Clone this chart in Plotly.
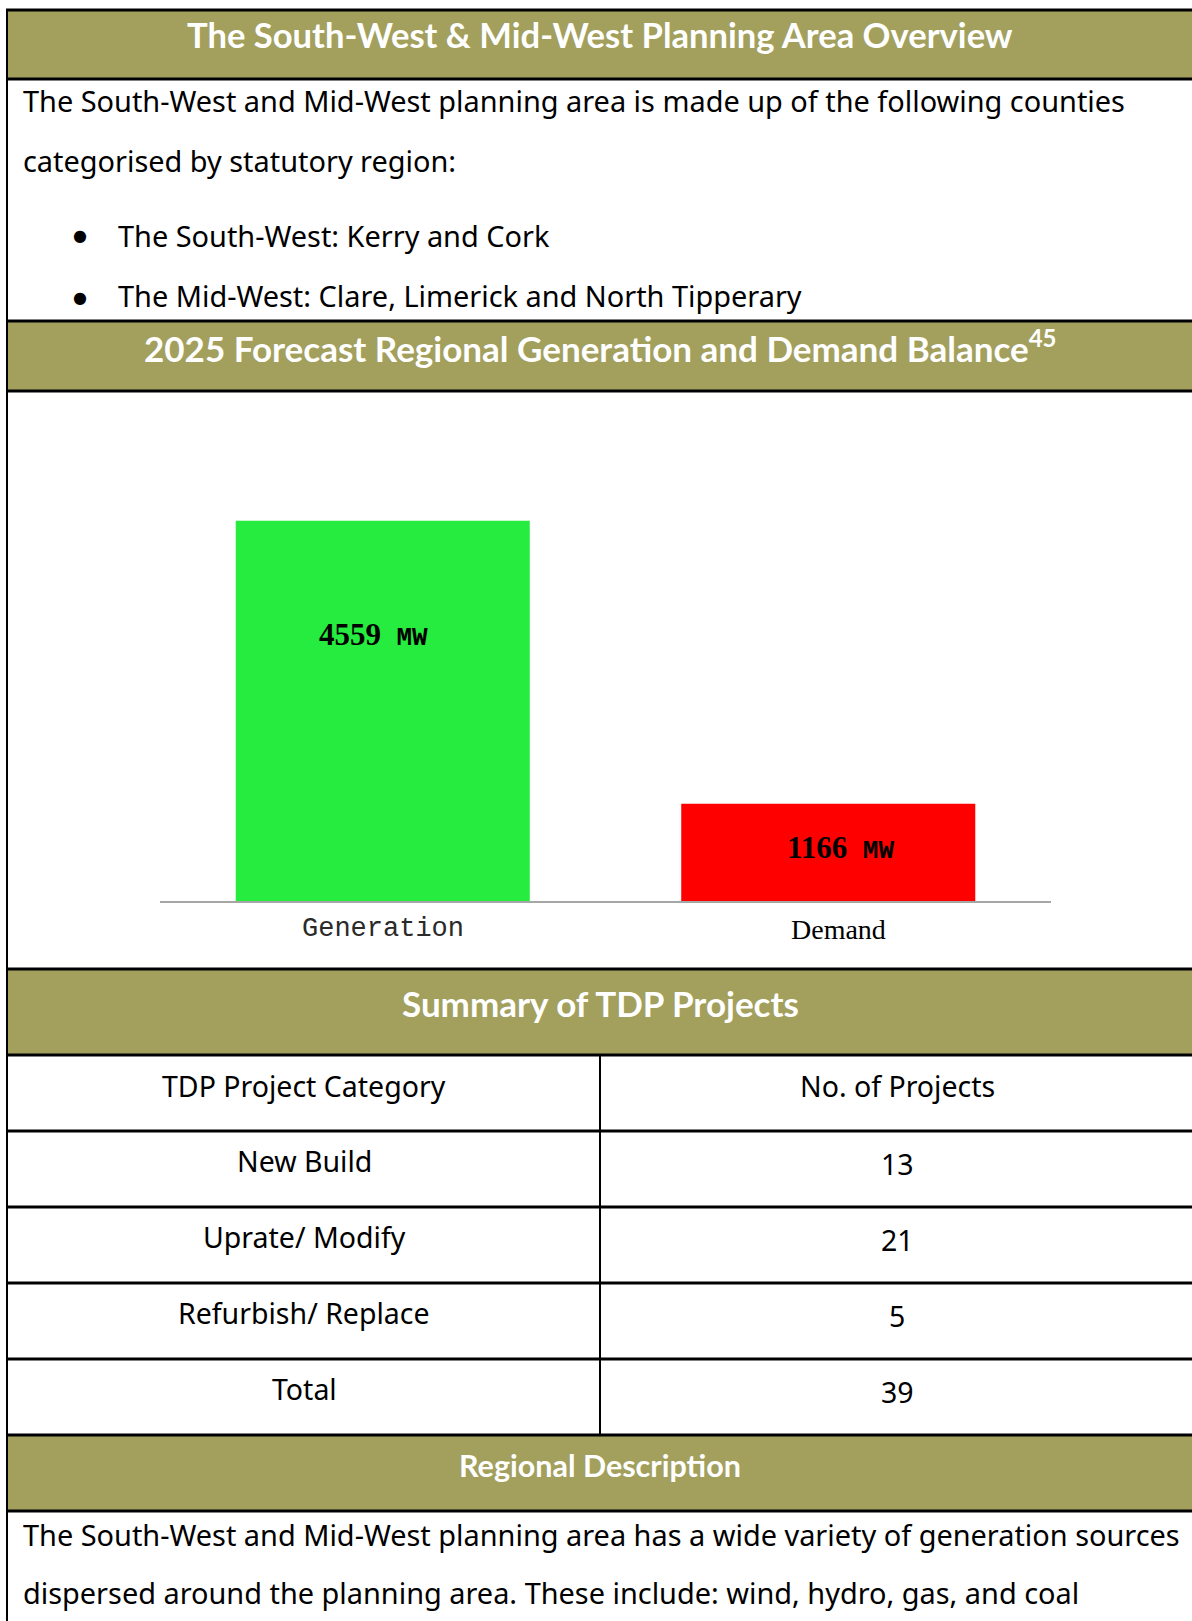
import plotly.graph_objects as go

W, H = 1192, 1621

# ---------------- data ----------------
bar_categories = ["Generation", "Demand"]
bar_values_mw = [4559, 1166]
bar_colors = ["#25EC3E", "#FF0000"]
bar_label_frac = [0.70, 0.55]
bar_unit = "MW"

title_overview = "The South-West & Mid-West Planning Area Overview"
overview_lines = [
    "The South-West and Mid-West planning area is made up of the following counties",
    "categorised by statutory region:",
]
overview_bullets = [
    "The South-West: Kerry and Cork",
    "The Mid-West: Clare, Limerick and North Tipperary",
]
title_balance = "2025 Forecast Regional Generation and Demand Balance"
balance_footnote = "45"
title_summary = "Summary of TDP Projects"
table_headers = ["TDP Project Category", "No. of Projects"]
project_categories = ["New Build", "Uprate/ Modify", "Refurbish/ Replace"]
project_counts = [13, 21, 5]
total_label = "Total"
title_regional = "Regional Description"
regional_lines = [
    "The South-West and Mid-West planning area has a wide variety of generation sources",
    "dispersed around the planning area. These include: wind, hydro, gas, and coal",
]

OLIVE = "rgb(163,160,94)"
HEAD_FONT = "Lato"
BODY_FONT = "Noto Sans"


def px(x):
    return x / W


def py(y):
    return 1 - y / H


shapes = []
annotations = []


def band(y0, y1):
    shapes.append(dict(type="rect", xref="paper", yref="paper",
                       x0=px(7), x1=px(W + 5), y0=py(y1), y1=py(y0),
                       fillcolor=OLIVE, line=dict(width=0), layer="below"))


def hline(y, w=3):
    shapes.append(dict(type="line", xref="paper", yref="paper",
                       x0=px(6), x1=px(W + 5), y0=py(y), y1=py(y),
                       line=dict(color="black", width=w)))


def vline(x, y0, y1, w=2):
    shapes.append(dict(type="line", xref="paper", yref="paper",
                       x0=px(x), x1=px(x), y0=py(y0), y1=py(y1),
                       line=dict(color="black", width=w)))


def text(s, x, y, size, anchor="center", color="black", bold=False, family=BODY_FONT):
    annotations.append(dict(text=f"<b>{s}</b>" if bold else s, x=px(x), y=py(y),
                            xref="paper", yref="paper", xanchor=anchor, yanchor="middle",
                            showarrow=False, font=dict(size=size, color=color, family=family)))


# header bands
band(10, 79)
band(321, 391)
band(969, 1055)
band(1435, 1511)

# horizontal rules
for y in [10, 79, 321, 391, 969, 1055, 1131, 1207, 1283, 1359, 1435, 1511]:
    hline(y)
# left border and table column divider
vline(7, 9, H + 5, 2)
vline(600, 1055, 1435, 2)

# section titles
text(title_overview, 600, 34, 34.6, color="white", bold=True, family=HEAD_FONT)
text(title_balance + f"<sup><span style='font-size:24px'>{balance_footnote}</span></sup>",
     600, 346, 35, color="white", bold=True, family=HEAD_FONT)
text(title_summary, 600, 1003, 35, color="white", bold=True, family=HEAD_FONT)
text(title_regional, 600, 1465, 30.5, color="white", bold=True, family=HEAD_FONT)

# overview text
for line, y in zip(overview_lines, [101, 160]):
    text(line, 21, y, 28.9, anchor="left")
for line, y in zip(overview_bullets, [235, 296]):
    text("\u25CF", 71, y + 1, 16, anchor="left", family="DejaVu Sans")
    text(line, 116, y, 28.9, anchor="left")

# table
text(table_headers[0], 304, 1086, 28.5)
text(table_headers[1], 897, 1086, 28.5)
rows_labels = project_categories + [total_label]
rows_counts = project_counts + [sum(project_counts)]
row_top = 1131
row_h = 76
for i, (lab, cnt) in enumerate(zip(rows_labels, rows_counts)):
    yc = row_top + i * row_h + row_h / 2 - 8
    text(lab, 304, yc, 28.5)
    text(str(cnt), 897, yc + 3, 28.5)

# regional description
for line, y in zip(regional_lines, [1534, 1592]):
    text(line, 21, y, 28.9, anchor="left")

# bar value labels
label_xshift = [-9, 12]
for cat, val, frac, xs in zip(bar_categories, bar_values_mw, bar_label_frac, label_xshift):
    annotations.append(dict(
        x=cat, y=val * frac, xref="x", yref="y", showarrow=False, xshift=xs,
        text=(f"<b>{val}</b>\u00a0\u00a0<span style='font-family:Liberation Mono;font-size:26px'>"
              f"<b>{bar_unit}</b></span>"),
        font=dict(family="Liberation Serif", size=31, color="black")))

# category labels under the axis
cat_fonts = [("Liberation Mono", 27, "#2a2a2a"), ("Liberation Serif", 28, "black")]
cat_xshift = [0, 10]
cat_yshift = [-28, -28]
for cat, (fam, sz, col), xs, ys in zip(bar_categories, cat_fonts, cat_xshift, cat_yshift):
    annotations.append(dict(
        x=cat, y=0, xref="x", yref="y", showarrow=False, xshift=xs, yshift=ys,
        yanchor="middle", text=cat, font=dict(family=fam, size=sz, color=col)))

fig = go.Figure()
fig.add_trace(go.Bar(x=bar_categories, y=bar_values_mw,
                     marker=dict(color=bar_colors, line=dict(width=0)),
                     hoverinfo="skip", showlegend=False))

fig.update_layout(
    width=W, height=H,
    margin=dict(l=0, r=0, t=0, b=0),
    paper_bgcolor="white", plot_bgcolor="rgba(0,0,0,0)",
    font=dict(family=BODY_FONT, color="black"),
    bargap=0.34,
    shapes=shapes,
    annotations=annotations,
    xaxis=dict(domain=[px(160), px(1051)], range=[-0.5, 1.5], type="category",
               showline=True, linecolor="#A6A6A6", linewidth=2, showgrid=False,
               zeroline=False, ticks="", showticklabels=False, fixedrange=True),
    yaxis=dict(domain=[py(901), py(484)], range=[0, 5000], visible=False,
               showgrid=False, zeroline=False, fixedrange=True),
)

fig.write_html(
    "out.html",
    config={"displayModeBar": False},
    post_script="document.body.style.margin='0';document.body.style.overflow='hidden';",
)
